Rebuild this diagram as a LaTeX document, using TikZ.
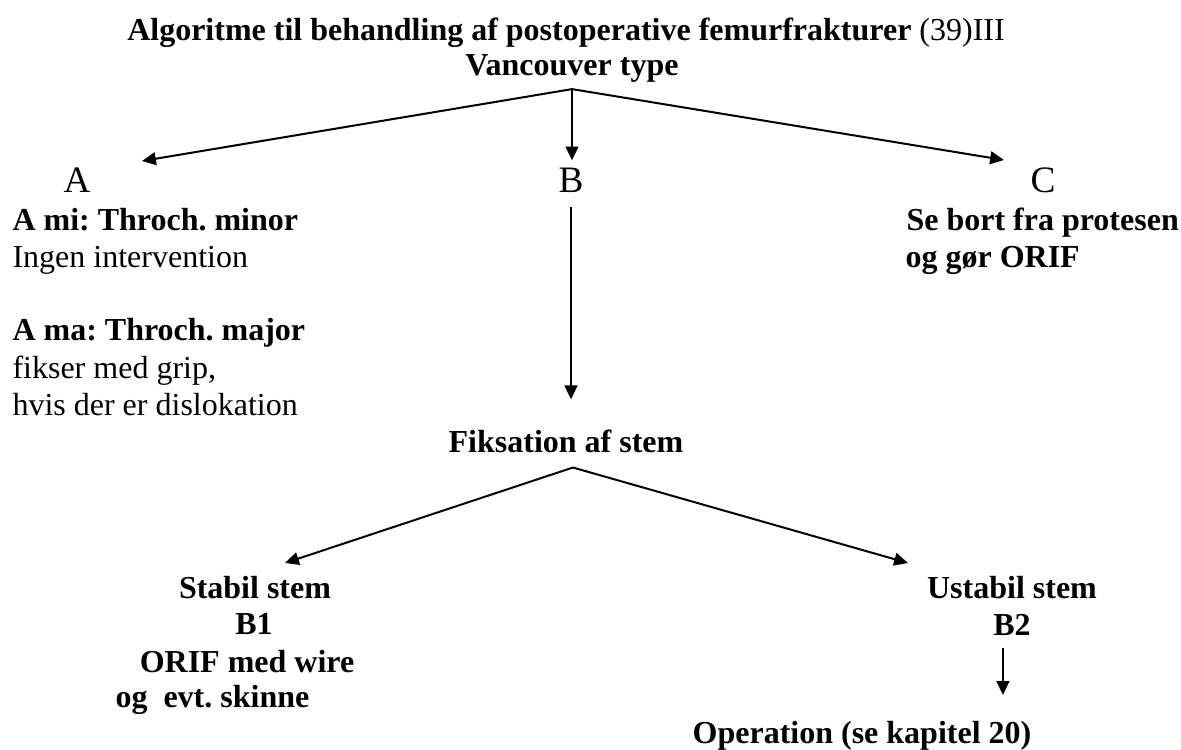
\documentclass[tikz,border=0pt]{standalone}
\usepackage{fontspec}
\setmainfont{Liberation Serif}
\usepackage{tikz}
\usetikzlibrary{arrows.meta}
\frenchspacing
\tikzset{
  line/.style={font=\fontsize{12}{13.8}\selectfont, inner xsep=0pt, inner ysep=2.5pt, anchor=base west},
  boldline/.style={line, font=\fontsize{12}{13.8}\selectfont\bfseries},
  centerline/.style={boldline, anchor=base},
  letter/.style={line, anchor=base, font=\fontsize{14}{16}\selectfont},
  arrow/.style={-{Triangle[length=5.2pt, width=4.8pt]}, line width=0.75pt},
}

\begin{document}
\begin{tikzpicture}[x=0.375pt, y=-0.375pt]
  \useasboundingbox (0,0) rectangle (1181,749);

  %% ---- HEADING ----
  \node[line, anchor=base] (title) at (566,40) {\textbf{Algoritme til behandling af postoperative femurfrakturer} (39)III};
  \node[centerline] (vancouver) at (572,75) {Vancouver type};

  %% ---- TYPES ----
  \node[letter] (A) at (77,192) {A};
  \node[letter] (B) at (571,192) {B};
  \node[letter] (C) at (1043,192) {C};

  \coordinate (tipA) at (142,161);
  \coordinate (tipC) at (1004,160);
  \draw[arrow] (vancouver.south) -- (tipA);
  \draw[arrow] (vancouver.south) -- (vancouver.south |- B.north);
  \draw[arrow] (vancouver.south) -- (tipC);

  %% ---- TYPE A ----
  \node[boldline] (ami) at (12,230) {A mi: Throch. minor};
  \node[line] (aint) at (12,267) {Ingen intervention};
  \node[boldline] (ama) at (12,340) {A ma: Throch. major};
  \node[line] (afix) at (12,378) {fikser med grip,};
  \node[line] (adisl) at (12,415) {hvis der er dislokation};

  %% ---- TYPE C ----
  \node[boldline] (cbort) at (906,230) {Se bort fra protesen};
  \node[boldline] (corif) at (905,267) {og gør ORIF};

  %% ---- TYPE B ----
  \node[centerline] (fiks) at (566,452) {Fiksation af stem};
  \draw[arrow, shorten <=3pt, shorten >=8.6pt] (B.south) -- (B.south |- fiks.north);

  \node[centerline] (stabil) at (255,598) {Stabil stem};
  \node[centerline] (bone) at (254,634) {B1};
  \node[centerline] (orif) at (247,672) {ORIF med wire};
  \node[boldline] (skinne) at (115,707) {og\ \ evt. skinne};

  \node[centerline] (ustabil) at (1012,598) {Ustabil stem};
  \node[centerline] (btwo) at (1012,635) {B2};
  \node[centerline] (operation) at (862,743) {Operation (se kapitel 20)};

  \coordinate (tipS) at (285,563);
  \coordinate (tipU) at (908,563);
  \draw[arrow] ([xshift=2.6pt, yshift=-3pt]fiks.south) -- (tipS);
  \draw[arrow] ([xshift=2.6pt, yshift=-3pt]fiks.south) -- (tipU);
  \draw[arrow, shorten <=2pt, shorten >=7pt] ([xshift=-3.4pt]btwo.south) -- ([xshift=-3.4pt]btwo.south |- operation.north);

\end{tikzpicture}
\end{document}
